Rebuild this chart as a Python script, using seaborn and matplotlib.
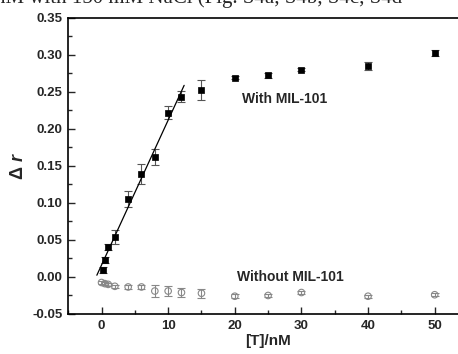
import numpy as np
import pandas as pd
import matplotlib
matplotlib.use("Agg")
import matplotlib.pyplot as plt
import seaborn as sns
from matplotlib.ticker import MultipleLocator

sns.set_theme(style="ticks")
plt.rcParams['font.family'] = ['Liberation Sans', 'DejaVu Sans']
plt.rcParams['mathtext.fontset'] = 'custom'
plt.rcParams['mathtext.rm'] = 'Liberation Sans'
plt.rcParams['mathtext.it'] = 'Liberation Sans:italic:bold'
plt.rcParams['mathtext.bf'] = 'Liberation Sans:bold'

# Data
conc_with = [0.2, 0.5, 1, 2, 4, 6, 8, 10, 12, 15, 20, 25, 30, 40, 50]
dr_with = [0.010, 0.0235, 0.041, 0.054, 0.105, 0.139, 0.162, 0.222, 0.243,
           0.253, 0.269, 0.272, 0.280, 0.285, 0.302]
err_with = [0.004, 0.004, 0.004, 0.010, 0.011, 0.014, 0.011, 0.0085, 0.0074,
            0.0135, 0.002, 0.003, 0.002, 0.005, 0.004]

conc_without = [0, 0.5, 1, 2, 4, 6, 8, 10, 12, 15, 20, 25, 30, 40, 50]
dr_without = [-0.0075, -0.009, -0.010, -0.0126, -0.0135, -0.0135, -0.019, -0.019,
              -0.021, -0.022, -0.026, -0.025, -0.021, -0.026, -0.024]
err_without = [0.002, 0.002, 0.002, 0.002, 0.003, 0.003, 0.008, 0.007, 0.006,
               0.006, 0.003, 0.002, 0.002, 0.002, 0.002]

fit_max_conc = 12
fit_range = [-0.7, 12.4]

xticks = [0, 10, 20, 30, 40, 50]
yticks = [-0.05, 0.00, 0.05, 0.10, 0.15, 0.20, 0.25, 0.30, 0.35]

df_with = pd.DataFrame({"x": conc_with, "y": dr_with, "e": err_with})
df_without = pd.DataFrame({"x": conc_without, "y": dr_without, "e": err_without})

# linear fit on the linear region
lin = df_with[df_with.x <= fit_max_conc]
slope, intercept = np.polyfit(lin.x, lin.y, 1)
fx = np.array(fit_range)
df_fit = pd.DataFrame({"x": fx, "y": slope * fx + intercept})

fig = plt.figure(figsize=(4.58, 3.54), dpi=100)
ax = fig.add_axes([68.2 / 458, 1 - 314 / 354, (468 - 68.2) / 458, (314 - 17.7) / 354])

ax.errorbar(df_with.x, df_with.y, yerr=df_with.e, fmt='none', ecolor='#555555',
            elinewidth=0.8, capsize=3, capthick=0.8, zorder=2)
ax.errorbar(df_without.x, df_without.y, yerr=df_without.e, fmt='none', ecolor='#888888',
            elinewidth=0.8, capsize=3, capthick=0.8, zorder=2)
sns.lineplot(data=df_fit, x="x", y="y", color="black", linewidth=0.9, ax=ax, zorder=3)
sns.scatterplot(data=df_with, x="x", y="y", marker="s", s=22, color="black",
                edgecolor="black", linewidth=0.5, ax=ax, zorder=4)
sns.scatterplot(data=df_without, x="x", y="y", marker="o", s=22, facecolor="none",
                edgecolor="#888888", linewidth=0.8, ax=ax, zorder=4)

ax.set_xlim(-5, 55)
ax.set_ylim(-0.05, 0.35)
ax.set_xticks(xticks)
ax.set_yticks(yticks)
ax.set_yticklabels([f"{v:.2f}" for v in yticks])
ax.xaxis.set_minor_locator(MultipleLocator(5))
ax.yaxis.set_minor_locator(MultipleLocator(0.025))
ax.tick_params(axis='both', which='major', direction='in', length=5, width=1,
               labelsize=9.5, pad=4)
ax.tick_params(axis='both', which='minor', direction='in', length=3, width=1)
for lbl in ax.get_xticklabels() + ax.get_yticklabels():
    lbl.set_fontweight('bold')
for sp in ax.spines.values():
    sp.set_linewidth(1.2)
    sp.set_color('black')

ax.set_xlabel("[T]/nM", fontsize=11, fontweight='bold', labelpad=2)
ax.set_ylabel(r"$\mathbf{\Delta}\ \mathit{r}$", fontsize=13, labelpad=4)

ax.text(21.1, 0.240, "With MIL-101", fontsize=10, fontweight='bold', va='center', ha='left')
ax.text(20.4, 0.0, "Without MIL-101", fontsize=10, fontweight='bold', va='center', ha='left')

fig.text(-0.01, 1.005, "nM with 150 mM NaCl (Fig. S4a, S4b, S4c, S4d",
         family=['Liberation Serif', 'DejaVu Serif'], fontsize=15, va='center', ha='left')

fig.savefig("out.png", dpi=100)
